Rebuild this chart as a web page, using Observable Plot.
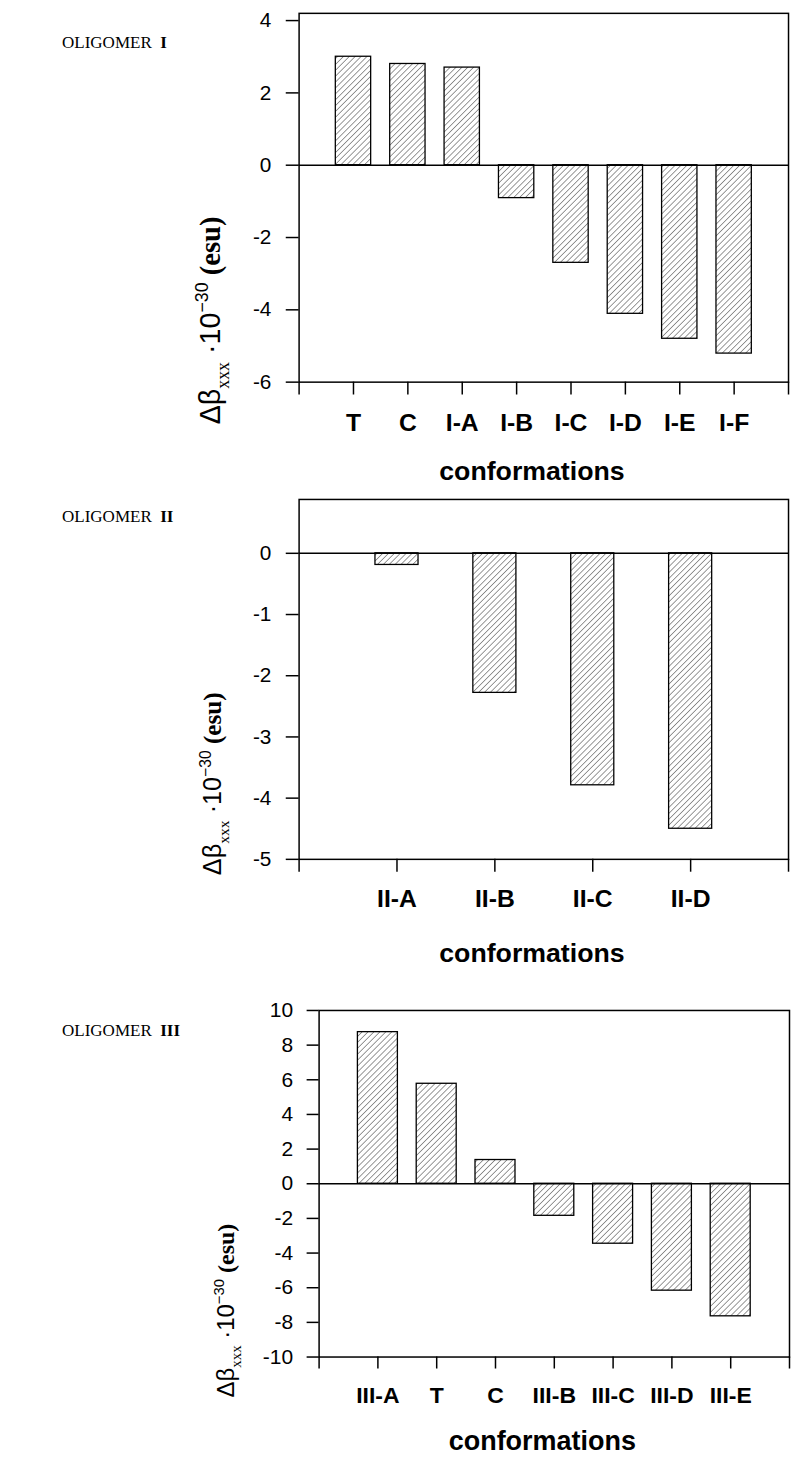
<!DOCTYPE html>
<html><head><meta charset="utf-8">
<script src="https://cdn.jsdelivr.net/npm/d3@7"></script>
<script src="https://cdn.jsdelivr.net/npm/@observablehq/plot@0.6"></script>
<style>
html,body{margin:0;padding:0;background:#fff;}
body{width:791px;height:1458px;overflow:hidden;position:relative;}
.panel{position:absolute;left:0;}
.olig{position:absolute;left:62px;font-family:"Liberation Serif","Times New Roman",serif;font-size:17px;color:#000;white-space:nowrap;line-height:1;}
.olig b{font-weight:bold;}
</style></head><body>
<script>
// ---- data ----
const catsI = ["T", "C", "I-A", "I-B", "I-C", "I-D", "I-E", "I-F"];
const valsI = [3.0, 2.8, 2.7, -0.91, -2.70, -4.11, -4.80, -5.21];
const ticksI = [-6, -4, -2, 0, 2, 4];

const catsII = ["II-A", "II-B", "II-C", "II-D"];
const valsII = [-0.19, -2.28, -3.79, -4.50];
const ticksII = [-5, -4, -3, -2, -1, 0];

const catsIII = ["III-A", "T", "C", "III-B", "III-C", "III-D", "III-E"];
const valsIII = [8.75, 5.77, 1.37, -1.85, -3.46, -6.17, -7.65];
const ticksIII = [-10, -8, -6, -4, -2, 0, 2, 4, 6, 8, 10];

const panelNames = ["I", "II", "III"];
const xTitle = "conformations";

// ---- drawing ----
function panel(o) {
  const data = o.cats.map((c, i) => ({pos: i + 1, cat: c, v: o.vals[i]}));
  const n = o.cats.length;
  const plot = Plot.plot({
    width: o.width,
    height: o.height,
    marginTop: o.marginTop,
    marginBottom: o.marginBottom,
    marginLeft: o.marginLeft,
    marginRight: o.marginRight,
    style: {fontFamily: "'Liberation Sans', Arial, sans-serif", background: "transparent", color: "#000", overflow: "visible"},
    x: {domain: [0, n + 1], label: null},
    y: {domain: o.yDomain, label: null},
    marks: [
      Plot.rectY(data, {
        x1: d => d.pos - o.barW / 2,
        x2: d => d.pos + o.barW / 2,
        y1: 0, y2: "v",
        fill: "url(#hatch" + o.id + ")", stroke: "#000", strokeWidth: 1.3
      }),
      Plot.ruleY([0], {stroke: "#000", strokeWidth: 1.5}),
      Plot.frame({stroke: "#000", strokeWidth: 1.5}),
      Plot.axisY({ticks: o.yTicks, tickSize: o.tickSize, tickPadding: o.yPad, fontSize: o.yFont,
        tickFormat: d => String(d), strokeWidth: 1.5, label: null}),
      Plot.axisX({ticks: d3.range(0, n + 2), tickSize: o.tickSize, tickPadding: o.xPad, fontSize: o.xFont,
        fontWeight: "bold", tickFormat: i => o.cats[i - 1] ?? "", strokeWidth: 1.5, label: null}),
      Plot.text([xTitle], {frameAnchor: "bottom", lineAnchor: "bottom", dy: o.titleDy, dx: -12,
        fontSize: o.titleFont, fontWeight: "bold"})
    ]
  });
  const svg = d3.select(plot.tagName.toLowerCase() === "svg" ? plot : plot.querySelector("svg"));
  const pat = svg.insert("defs", ":first-child").append("pattern")
    .attr("id", "hatch" + o.id).attr("patternUnits", "userSpaceOnUse")
    .attr("width", o.hatch).attr("height", o.hatch)
    .attr("patternTransform", "rotate(45)");
  pat.append("rect").attr("width", o.hatch).attr("height", o.hatch).attr("fill", "#fff");
  pat.append("line").attr("x1", 0).attr("y1", 0).attr("x2", 0).attr("y2", o.hatch)
    .attr("stroke", "#333").attr("stroke-width", 1.0);
  // y-axis title with sub/superscripts
  const fs = o.labFont;
  const t = svg.append("text")
    .attr("transform", `translate(${o.labX},${o.labY}) rotate(-90)`)
    .attr("text-anchor", "middle").attr("fill", "#000");
  t.append("tspan").attr("font-family", "'Liberation Sans', Arial, sans-serif").attr("font-size", fs).text("Δβ");
  t.append("tspan").attr("font-family", "'Liberation Serif', serif").attr("font-size", fs * 0.62).attr("dy", fs * 0.3).text("xxx");
  t.append("tspan").attr("font-family", "'Liberation Sans', Arial, sans-serif").attr("font-size", fs).attr("dy", -fs * 0.3).text(" ·10");
  t.append("tspan").attr("font-family", "'Liberation Sans', Arial, sans-serif").attr("font-size", fs * 0.62).attr("dy", -fs * 0.42).text("−30");
  t.append("tspan").attr("font-family", "'Liberation Serif', serif").attr("font-weight", "bold").attr("font-size", fs).attr("dy", fs * 0.42).text(" (esu)");

  const div = document.createElement("div");
  div.className = "panel";
  div.style.top = o.top + "px";
  div.appendChild(plot);
  document.body.appendChild(div);

  const lab = document.createElement("div");
  lab.className = "olig";
  lab.style.top = o.nameY + "px";
  lab.innerHTML = "OLIGOMER&nbsp; <b>" + panelNames[o.id] + "</b>";
  document.body.appendChild(lab);
}

panel({id: 0, cats: catsI, vals: valsI, yTicks: ticksI, yDomain: [-6, 4.2],
  top: 0, width: 800, height: 495, marginTop: 13, marginBottom: 109, marginLeft: 302, marginRight: 3,
  barW: 0.65, tickSize: 13, yPad: 15, xPad: 19, yFont: 21, xFont: 25, titleFont: 27, titleDy: 99,
  hatch: 4.2, labFont: 29, labX: 223, labY: 324, nameY: 34});

panel({id: 1, cats: catsII, vals: valsII, yTicks: ticksII, yDomain: [-5, 0.88],
  top: 495, width: 800, height: 495, marginTop: 4, marginBottom: 127, marginLeft: 302, marginRight: 3,
  barW: 0.44, tickSize: 13, yPad: 15, xPad: 17, yFont: 21, xFont: 25, titleFont: 27, titleDy: 104,
  hatch: 4.2, labFont: 25.5, labX: 224, labY: 292, nameY: 508});

panel({id: 2, cats: catsIII, vals: valsIII, yTicks: ticksIII, yDomain: [-10, 10],
  top: 990, width: 792, height: 468, marginTop: 20, marginBottom: 101, marginLeft: 319, marginRight: 2,
  barW: 0.68, tickSize: 12, yPad: 14, xPad: 18, yFont: 21, xFont: 23, titleFont: 27, titleDy: 93,
  hatch: 4.2, labFont: 24, labX: 234, labY: 321, nameY: 1022});
</script>
</body></html>
